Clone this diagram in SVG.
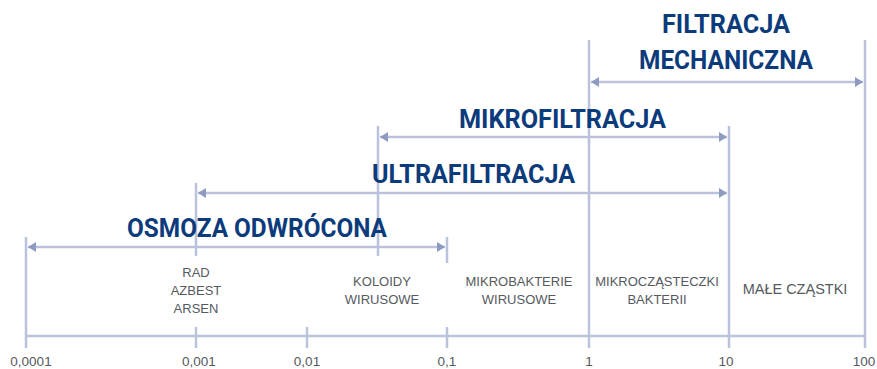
<svg xmlns="http://www.w3.org/2000/svg" width="877" height="369" viewBox="0 0 877 369">
<style>
.ln{stroke:#bac2dc;stroke-width:2.5;fill:none}
.ar{stroke:#bac2dc;stroke-width:2.5;fill:none;marker-start:url(#ah);marker-end:url(#ah)}
.ttl{font-family:Roboto,"Liberation Sans",sans-serif;font-weight:700;font-size:26px;fill:#0c3b7c;text-anchor:middle}
.lbl{font-family:"Liberation Sans",Arial,sans-serif;font-size:13px;fill:#555a60;text-anchor:middle}
.ax{font-family:"Liberation Sans",Arial,sans-serif;font-size:13.5px;fill:#555a60;text-anchor:middle}
</style>
<defs>
<marker id="ah" viewBox="0 0 8 10" refX="8" refY="5" markerWidth="8" markerHeight="10" markerUnits="userSpaceOnUse" orient="auto-start-reverse">
<path d="M0,0 L8,5 L0,10 Z" fill="#8e9ac2"/>
</marker>
</defs>
<rect width="877" height="369" fill="#ffffff"/>
<g id="connectors">
<line class="ln" x1="26" y1="336" x2="865" y2="336"/>
<line class="ln" x1="26" y1="237" x2="26" y2="348"/>
<line class="ln" x1="196" y1="183" x2="196" y2="256"/>
<line class="ln" x1="196" y1="327" x2="196" y2="348"/>
<line class="ln" x1="307" y1="327" x2="307" y2="348"/>
<line class="ln" x1="378" y1="126" x2="378" y2="256"/>
<line class="ln" x1="447" y1="237" x2="447" y2="263"/>
<line class="ln" x1="447" y1="327" x2="447" y2="348"/>
<line class="ln" x1="589" y1="40" x2="589" y2="348"/>
<line class="ln" x1="729" y1="126" x2="729" y2="348"/>
<line class="ln" x1="865" y1="40" x2="865" y2="348"/>
<line class="ar" x1="28" y1="247" x2="445" y2="247"/>
<line class="ar" x1="198" y1="193" x2="727" y2="193"/>
<line class="ar" x1="380" y1="137" x2="727" y2="137"/>
<line class="ar" x1="591" y1="82" x2="863" y2="82"/>
</g>
<g id="filtracja-mechaniczna">
<text class="ttl" x="726" y="33" textLength="128" lengthAdjust="spacingAndGlyphs">FILTRACJA</text>
<text class="ttl" x="726" y="69" textLength="174" lengthAdjust="spacingAndGlyphs">MECHANICZNA</text>
</g>
<g id="mikrofiltracja">
<text class="ttl" x="562.5" y="128" textLength="207" lengthAdjust="spacingAndGlyphs">MIKROFILTRACJA</text>
</g>
<g id="ultrafiltracja">
<text class="ttl" x="473.5" y="183" textLength="203" lengthAdjust="spacingAndGlyphs">ULTRAFILTRACJA</text>
</g>
<g id="osmoza-odwrocona">
<text class="ttl" x="257" y="237" textLength="260" lengthAdjust="spacingAndGlyphs">OSMOZA ODWRÓCONA</text>
</g>
<g id="rad-azbest-arsen">
<text class="lbl" x="196" y="277">RAD</text>
<text class="lbl" x="196" y="295">AZBEST</text>
<text class="lbl" x="196" y="313">ARSEN</text>
</g>
<g id="koloidy">
<text class="lbl" x="382" y="286">KOLOIDY</text>
<text class="lbl" x="382" y="304">WIRUSOWE</text>
</g>
<g id="mikrobakterie">
<text class="lbl" x="519" y="286">MIKROBAKTERIE</text>
<text class="lbl" x="519" y="304">WIRUSOWE</text>
</g>
<g id="mikroczasteczki">
<text class="lbl" x="657" y="286">MIKROCZĄSTECZKI</text>
<text class="lbl" x="657" y="304">BAKTERII</text>
</g>
<g id="male-czastki">
<text class="lbl" x="795" y="294" style="font-size:14.5px">MAŁE CZĄSTKI</text>
</g>
<g id="axis-labels">
<text class="ax" x="31" y="366">0,0001</text>
<text class="ax" x="199" y="366">0,001</text>
<text class="ax" x="307" y="366">0,01</text>
<text class="ax" x="447" y="366">0,1</text>
<text class="ax" x="589" y="366">1</text>
<text class="ax" x="726" y="366">10</text>
<text class="ax" x="864" y="366">100</text>
</g>
</svg>
